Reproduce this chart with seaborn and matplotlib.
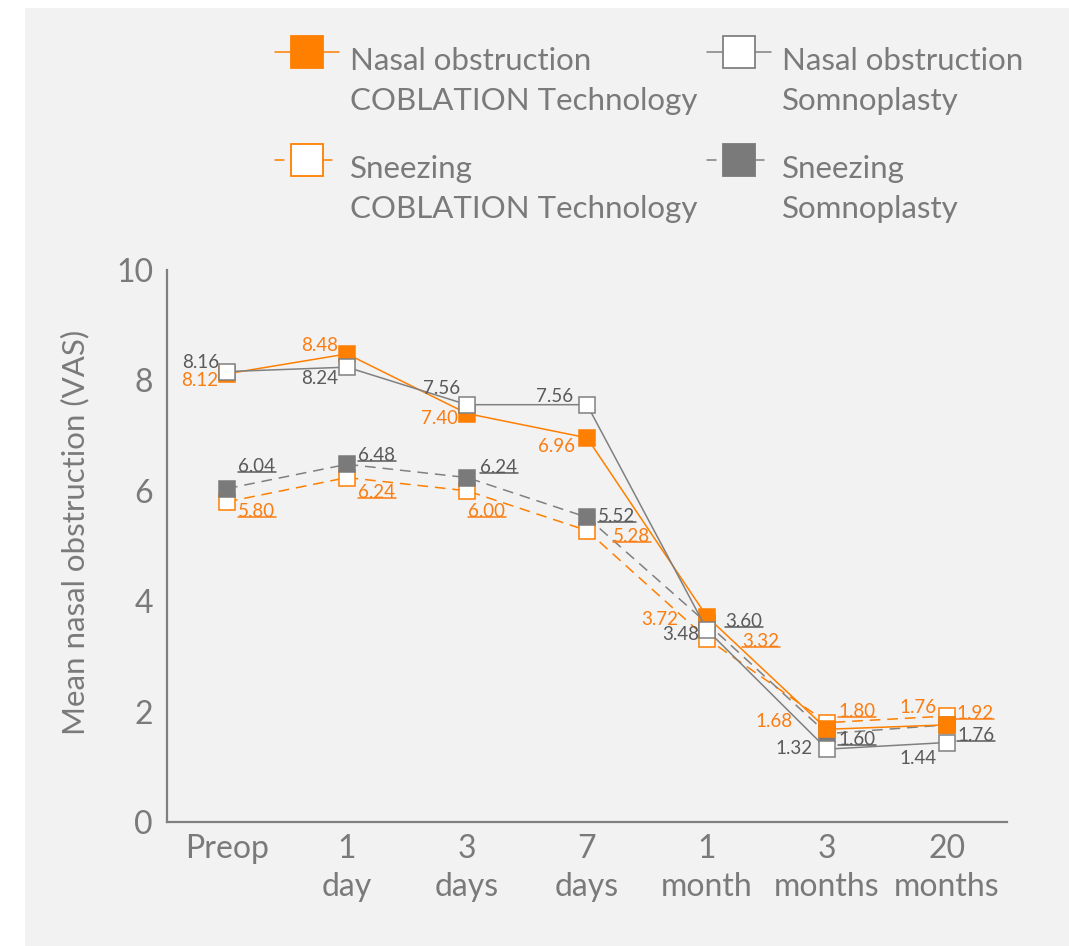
import numpy as np
import pandas as pd
import matplotlib
matplotlib.use("Agg")
import matplotlib.pyplot as plt
from matplotlib.lines import Line2D
from matplotlib.patches import Rectangle
from matplotlib import font_manager
import seaborn as sns

# ---------------- data ----------------
categories = ["Preop", "1 day", "3 days", "7 days", "1 month", "3 months", "20 months"]
tick_labels = ["Preop", "1\nday", "3\ndays", "7\ndays", "1\nmonth", "3\nmonths", "20\nmonths"]
nasal_coblation = [8.12, 8.48, 7.40, 6.96, 3.72, 1.68, 1.76]
nasal_somnoplasty = [8.16, 8.24, 7.56, 7.56, 3.48, 1.32, 1.44]
sneezing_coblation = [5.80, 6.24, 6.00, 5.28, 3.32, 1.80, 1.92]
sneezing_somnoplasty = [6.04, 6.48, 6.24, 5.52, 3.60, 1.60, 1.76]
y_ticks = [0, 2, 4, 6, 8, 10]
y_label = "Mean nasal obstruction (VAS)"
legend_labels = ["Nasal obstruction\nCOBLATION Technology",
                 "Nasal obstruction\nSomnoplasty",
                 "Sneezing\nCOBLATION Technology",
                 "Sneezing\nSomnoplasty"]

# ---------------- style ----------------
ORANGE = "#ff7f00"
GREY = "#808080"
GREY_FILL = "#7a7a7a"
TXT = "#7a7a7a"
LBL_GREY = "#5a5a5a"
LBL_ORANGE = "#fb7d12"

sns.set_theme(style="white")
names = {f.name for f in font_manager.fontManager.ttflist}
family = "Lato" if "Lato" in names else "DejaVu Sans"
plt.rcParams["font.family"] = [family, "DejaVu Sans"]
plt.rcParams["font.weight"] = "normal"

W, H = 1069, 946
fig = plt.figure(figsize=(W / 100, H / 100), dpi=100)
fig.patch.set_facecolor("white")
fig.patches.append(Rectangle((25 / W, 0), 1 - 25 / W, 1 - 8 / H, transform=fig.transFigure,
                             facecolor="#f2f2f2", edgecolor="none", zorder=-10))

ax = fig.add_axes([167 / W, 1 - 822 / H, 840 / W, 552 / H])
ax.set_facecolor("none")

# label offsets (pixels, to baseline) and alignment
off_nc = [(-9, -12), (-9, 3), (-9, -10), (-12, -14), (-29, -8), (-34, 2), (-10, 12)]
off_ns = [(-8, 4), (-9, -17), (-7, 11), (-14, 3), (-8, -10), (-14, -5), (-10, -21)]
off_ss = [(11, 17), (11, 3), (13, 5), (11, -5), (18, -4), (11, -11), (10, -16)]
off_sc = [(11, -15), (11, -20), (1, -26), (26, -11), (35, -8), (11, 6), (9, -3)]

DASH = (0, (7, 4.5))
series = [
    # values, line color, face, edge, linestyle, zorder, label color, offsets, ha, underline
    (sneezing_coblation, ORANGE, "white", ORANGE, DASH, 2, LBL_ORANGE, off_sc, "left", True),
    (sneezing_somnoplasty, GREY, GREY_FILL, GREY_FILL, DASH, 3, LBL_GREY, off_ss, "left", True),
    (nasal_coblation, ORANGE, ORANGE, ORANGE, "-", 4, LBL_ORANGE, off_nc, "right", False),
    (nasal_somnoplasty, GREY, "white", GREY, "-", 5, LBL_GREY, off_ns, "right", False),
]

underlined = []
for vals, lc, fc, ec, ls, z, tc, offs, ha, ul in series:
    df = pd.DataFrame({"time": categories, "value": vals})
    sns.lineplot(data=df, x="time", y="value", ax=ax, sort=False, color=lc,
                 linewidth=1.1, linestyle=ls, marker="s", markersize=12,
                 markerfacecolor=fc, markeredgecolor=ec, markeredgewidth=1.1,
                 zorder=z, errorbar=None)
    for i, v in enumerate(vals):
        t = ax.annotate(f"{v:.2f}", (i, v), xytext=offs[i], textcoords="offset pixels",
                        ha=ha, va="baseline", fontsize=13.5, color=tc, zorder=8)
        if ul:
            underlined.append((t, tc))

# axes formatting
ax.set_xlim(-0.5, 6.5)
ax.set_ylim(0, 10)
ax.set_xlabel("")
ax.set_ylabel(y_label, fontsize=22.5, color=TXT)
ax.yaxis.set_label_coords(-0.092, 0.525)
ax.set_yticks(y_ticks)
ax.set_yticklabels([str(v) for v in y_ticks])
ax.set_xticks(range(len(categories)))
ax.set_xticklabels(tick_labels)
ax.set_xticks(np.arange(len(categories) - 1) + 0.5, minor=True)
ax.tick_params(axis="x", which="major", length=0, pad=9, labelsize=23, labelcolor=TXT)
ax.tick_params(axis="x", which="minor", direction="in", length=9.5, width=1.5, color=GREY)
ax.tick_params(axis="y", which="major", direction="in", length=14.5, width=1.5, color=GREY,
               pad=10, labelsize=23, labelcolor=TXT)
for lab in ax.get_xticklabels():
    lab.set_linespacing(1.3)
for s in ["top", "right"]:
    ax.spines[s].set_visible(False)
for s in ["left", "bottom"]:
    ax.spines[s].set_color(GREY)
    ax.spines[s].set_linewidth(1.6)
ax.grid(False)
legend = ax.get_legend()
if legend:
    legend.remove()

# manual legend (figure pixel coords)
def fx(px):
    return px / W

def fy(py):
    return 1 - py / H

legend_specs = [
    (307, 52, ORANGE, ORANGE, ORANGE, True, legend_labels[0]),
    (739, 52, GREY, "white", GREY, True, legend_labels[1]),
    (307, 160, ORANGE, "white", ORANGE, False, legend_labels[2]),
    (739, 160, GREY, GREY_FILL, GREY_FILL, False, legend_labels[3]),
]
for cx, cy, lc, fc, ec, solid, lab in legend_specs:
    if solid:
        fig.add_artist(Line2D([fx(cx - 32), fx(cx + 32)], [fy(cy), fy(cy)], color=lc,
                              lw=1.1, transform=fig.transFigure))
    else:
        fig.add_artist(Line2D([fx(cx - 32), fx(cx - 23)], [fy(cy), fy(cy)], color=lc,
                              lw=1.1, transform=fig.transFigure))
        fig.add_artist(Line2D([fx(cx + 17), fx(cx + 25)], [fy(cy), fy(cy)], color=lc,
                              lw=1.1, transform=fig.transFigure))
    fig.add_artist(Line2D([fx(cx)], [fy(cy)], marker="s", markersize=23.5,
                          markerfacecolor=fc, markeredgecolor=ec, markeredgewidth=1.3,
                          linestyle="none", transform=fig.transFigure))
    fig.text(fx(cx + 43), fy(cy + 58), lab, fontsize=22.5, color=TXT, ha="left",
             va="baseline", linespacing=1.52)

# underlines for sneezing labels
fig.canvas.draw()
renderer = fig.canvas.get_renderer()
inv = fig.transFigure.inverted()
for t, c in underlined:
    bb = t.get_window_extent(renderer)
    (x0, y0) = inv.transform((bb.x0, bb.y0 + 3))
    (x1, _) = inv.transform((bb.x1 + 1, bb.y0 + 3))
    fig.add_artist(Line2D([x0, x1], [y0, y0], color=c, lw=1.1, transform=fig.transFigure,
                          zorder=8))

fig.savefig("out.png", dpi=100, facecolor=fig.get_facecolor())
